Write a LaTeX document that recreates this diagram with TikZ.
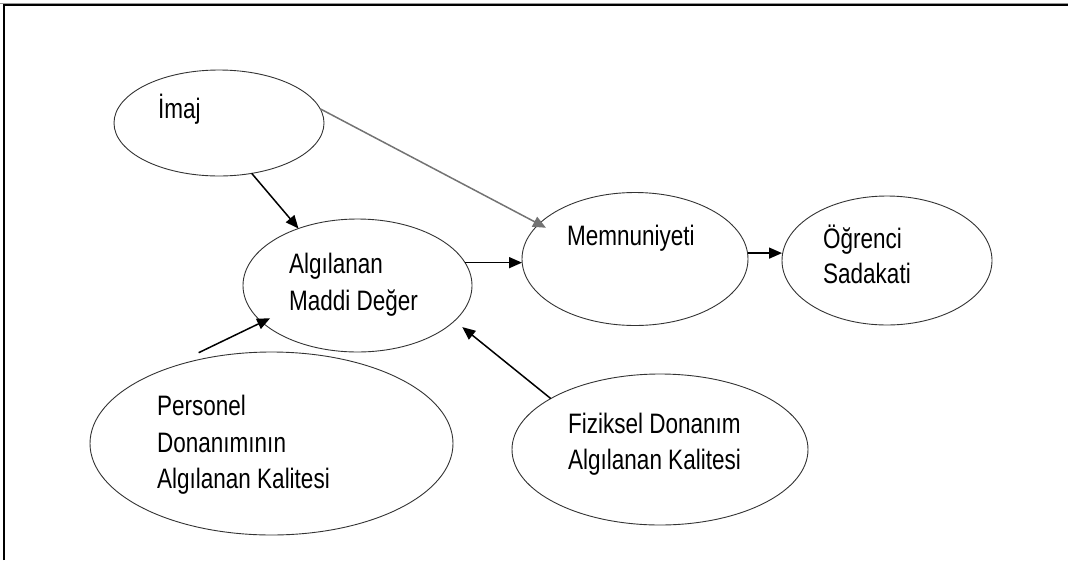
\documentclass[tikz,border=0pt]{standalone}
\usepackage{fontspec}
\setmainfont{Liberation Sans}
\usepackage{graphicx}
\usetikzlibrary{shapes.geometric,arrows.meta}
% slightly tall lettering
\newcommand{\stretched}[1]{\scalebox{1}[1.25]{#1}}
\begin{document}
\begin{tikzpicture}[x=1pt,y=-1pt,
  bubble/.style={draw=black!80,line width=0.9pt,ellipse,inner sep=0pt,outer sep=0pt},
  lbl/.style={anchor=base west,inner sep=0pt,font=\fontsize{22.5}{27}\selectfont},
  link/.style={line width=1.5pt,-{Triangle[length=13pt,width=11pt]}},
  graylink/.style={link,draw=black!55}]
\useasboundingbox (0,0) rectangle (1068,560);

% page frame (top and left edges)
\draw[black!40,line width=0.8pt] (0,3.6) -- (1068,3.6);
\draw[line width=1.8pt] (3.7,560) -- (3.7,5.3) -- (1068,5.3);

% constructs
\node[bubble,minimum width=210pt,minimum height=106pt] (imaj) at (219,123) {};
\node[bubble,minimum width=229pt,minimum height=133pt] (alg) at (357.5,285.5) {};
\node[bubble,minimum width=226pt,minimum height=133pt] (mem) at (635,259) {};
\node[bubble,minimum width=210pt,minimum height=129pt] (ogr) at (887,260.5) {};
\node[bubble,minimum width=363pt,minimum height=183pt] (pers) at (271.5,443.5) {};
\node[bubble,minimum width=296pt,minimum height=151pt] (fiz) at (660,449.5) {};

% labels
\node[lbl] (t-imaj) at (158,118) {\stretched{İmaj}};
\node[lbl] (t-alg1) at (289,273) {\stretched{Algılanan}};
\node[lbl] (t-alg2) at (289,310) {\stretched{Maddi Değer}};
\node[lbl] (t-mem) at (567,245) {\stretched{Memnuniyeti}};
\node[lbl] (t-ogr1) at (823,248) {\stretched{Öğrenci}};
\node[lbl] (t-ogr2) at (823,283) {\stretched{Sadakati}};
\node[lbl] (t-pers1) at (157,415) {\stretched{Personel}};
\node[lbl] (t-pers2) at (157,452) {\stretched{Donanımının}};
\node[lbl] (t-pers3) at (157,488) {\stretched{Algılanan Kalitesi}};
\node[lbl] (t-fiz1) at (568,433) {\stretched{Fiziksel Donanım}};
\node[lbl] (t-fiz2) at (568,469) {\stretched{Algılanan Kalitesi}};

% paths
\draw[link] (imaj.-57) -- (alg.136.5);
\draw[graylink,shorten >=-8pt] (imaj.8.8) -- (mem.160);
\draw[link] (alg.12) -- (alg.12 -| mem.west);
\draw[link] (mem.3.4) -- (mem.3.4 -| ogr.west);
\draw[link,shorten >=-9pt] ([yshift=7pt]pers.131) -- (alg.201);
\draw[link,shorten >=10pt] (fiz.155) -- (alg.-20);
\end{tikzpicture}
\end{document}
